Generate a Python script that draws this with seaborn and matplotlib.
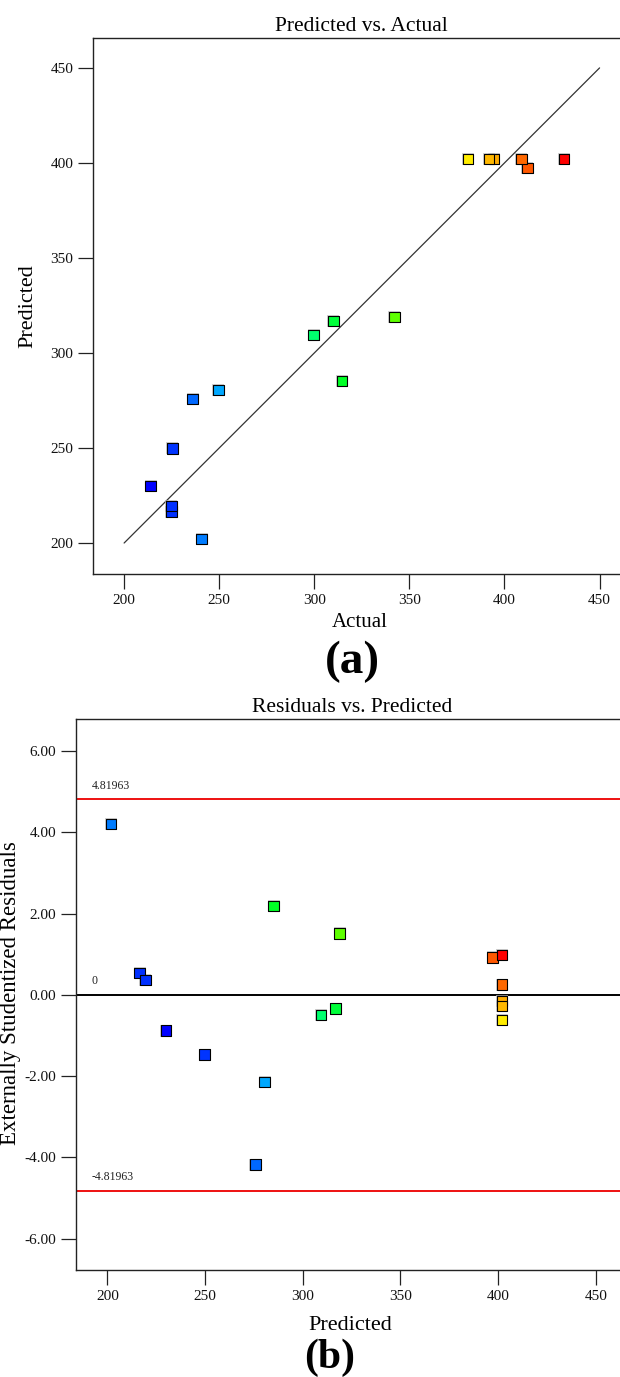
import colorsys
import numpy as np
import matplotlib
matplotlib.use("Agg")
import matplotlib.pyplot as plt
from matplotlib.colors import ListedColormap
import seaborn as sns
import pandas as pd

# ---- data ----
actual = [240.7, 224.9, 224.9, 213.9, 225.4, 249.6, 236.0, 314.6, 342.1,
          299.6, 310.0, 412.1, 431.2, 408.9, 394.4, 391.8, 380.7]
predicted = [202.0, 216.5, 219.5, 230.0, 249.8, 280.5, 275.8, 285.1, 318.9,
             309.5, 316.8, 397.2, 402.0, 402.0, 402.0, 402.0, 402.0]
residual = [4.20, 0.53, 0.37, -0.88, -1.47, -2.15, -4.18, 2.18, 1.51,
            -0.49, -0.34, 0.92, 0.98, 0.25, -0.16, -0.27, -0.62]
limit = 4.81963
ticks_a = [200, 250, 300, 350, 400, 450]
ticks_res = [-6, -4, -2, 0, 2, 4, 6]

df = pd.DataFrame({"Actual": actual, "Predicted": predicted, "Residual": residual})

sns.set_style("ticks")
plt.rcParams["font.family"] = ["Liberation Serif", "DejaVu Serif"]
plt.rcParams["axes.edgecolor"] = "#222222"
plt.rcParams["axes.linewidth"] = 1.0
plt.rcParams["text.color"] = "black"

# blue -> red rainbow (hue sweep 240 deg -> 0 deg)
cmap = ListedColormap([colorsys.hsv_to_rgb((240 * (1 - t)) / 360.0, 1, 1)
                       for t in np.linspace(0, 1, 256)])
hnorm = (min(actual), max(actual))

W, H = 620, 1377
fig = plt.figure(figsize=(W / 100, H / 100), dpi=100)


def frac_box(l, t, r, b):
    return [l / W, 1 - b / H, (r - l) / W, (b - t) / H]


def style_axes(ax):
    ax.spines["right"].set_visible(False)
    ax.tick_params(direction="out", length=11, width=0.9, color="#222222",
                   labelsize=11, labelcolor="#111111", pad=3.5)


def draw_points(ax, x, y):
    # soft grey shadow, then the coloured squares
    sns.scatterplot(data=df, x=x, y=y, color="#bbbbbb", marker="s", s=80,
                    linewidth=0, legend=False, ax=ax, zorder=2, alpha=0.7)
    sns.scatterplot(data=df, x=x, y=y, hue="Actual", palette=cmap,
                    hue_norm=hnorm, marker="s", s=56, edgecolor="black",
                    linewidth=0.8, legend=False, ax=ax, zorder=3)


# ---------- (a) Predicted vs Actual ----------
ax1 = fig.add_axes(frac_box(93.3, 37.5, 630, 574))
ax1.plot([200, 450], [200, 450], color="#333333", lw=0.9, zorder=1)
draw_points(ax1, "Actual", "Predicted")
ax1.set_xlim(183.8, 466)
ax1.set_ylim(183.7, 466)
ax1.set_xticks(ticks_a)
ax1.set_yticks(ticks_a)
ax1.set_xlabel("")
ax1.set_ylabel("")
style_axes(ax1)
ax1.set_title("Predicted vs. Actual", fontsize=15.5, pad=5)
fig.text(27.5 / W, 1 - 306 / H, "Predicted", rotation=90, ha="center",
         va="center", fontsize=16)
fig.text(360 / W, 1 - 627 / H, "Actual", ha="center", va="baseline",
         fontsize=15)
fig.text(352 / W, 1 - 673 / H, "(a)", ha="center", va="baseline",
         fontsize=34, fontweight="bold")

# ---------- (b) Residuals vs Predicted ----------
ax2 = fig.add_axes(frac_box(76.3, 719.3, 627, 1270.3))
ax2.axhline(limit, color="#ee1111", lw=1.4, zorder=1)
ax2.axhline(-limit, color="#ee1111", lw=1.4, zorder=1)
ax2.axhline(0, color="black", lw=1.4, zorder=1)
draw_points(ax2, "Predicted", "Residual")
ax2.set_xlim(184.1, 466)
ax2.set_ylim(-6.78, 6.78)
ax2.set_xticks(ticks_a)
ax2.set_yticks(ticks_res)
ax2.set_yticklabels([f"{v:.2f}" for v in ticks_res])
ax2.set_xlabel("")
ax2.set_ylabel("")
style_axes(ax2)
ax2.set_title("Residuals vs. Predicted", fontsize=15.5, pad=5)
ax2.text(192, limit + 0.18, f"{limit}", fontsize=8.5, color="#222222",
         va="bottom", ha="left")
ax2.text(192, -limit + 0.18, f"{-limit}", fontsize=8.5, color="#222222",
         va="bottom", ha="left")
ax2.text(192, 0.18, "0", fontsize=8.5, color="#222222", va="bottom", ha="left")
fig.text(11 / W, 1 - 993 / H, "Externally Studentized Residuals", rotation=90,
         ha="center", va="center", fontsize=16.5)
fig.text(350 / W, 1 - 1330 / H, "Predicted", ha="center", va="baseline",
         fontsize=16)
fig.text(330 / W, 1 - 1368 / H, "(b)", ha="center", va="baseline",
         fontsize=30, fontweight="bold")

fig.savefig("out.png", dpi=100)
